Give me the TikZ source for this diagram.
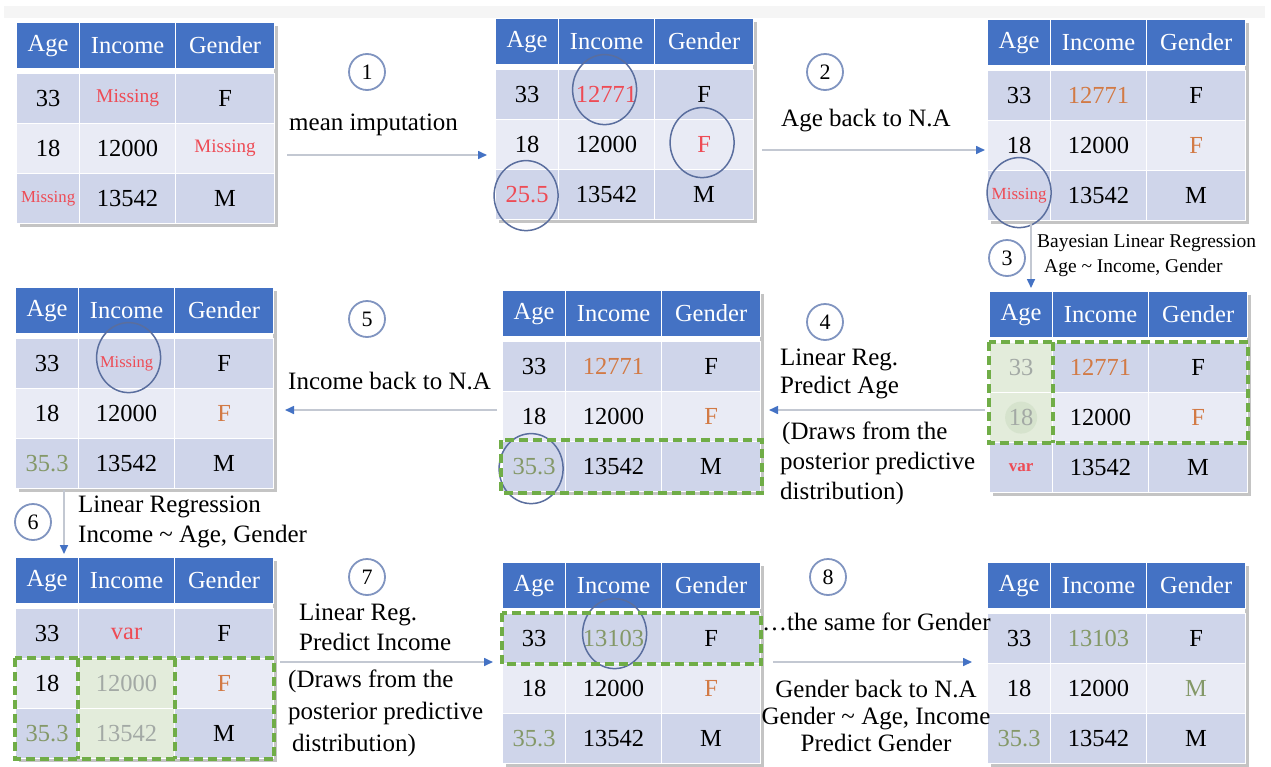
\documentclass[tikz,border=0pt]{standalone}
\usepackage{fontspec}
\setmainfont{LiberationSerif}[Extension=.ttf, UprightFont=*-Regular, BoldFont=*-Bold, ItalicFont=*-Italic, BoldItalicFont=*-BoldItalic]
\usetikzlibrary{arrows.meta,calc}

\definecolor{hdrblue}{HTML}{4472C4}
\definecolor{bandA}{HTML}{CFD5EA}
\definecolor{bandB}{HTML}{E9EBF5}
\definecolor{missred}{HTML}{EE4B55}
\definecolor{orangeval}{HTML}{D27A45}
\definecolor{oliveval}{HTML}{849868}
\definecolor{fadeval}{HTML}{A3A9A5}
\definecolor{hlgreen}{HTML}{E3ECDB}
\definecolor{hlgreenB}{HTML}{D6E3CD}
\definecolor{dashgreen}{HTML}{70AD47}
\definecolor{ringblue}{HTML}{5A6E9E}
\definecolor{stepring}{HTML}{8094C0}
\definecolor{linegray}{HTML}{C3C8D2}
\definecolor{shadowgray}{HTML}{C4C4C4}

% text colours used inside the cells
\newcommand\cRed[1]{\textcolor{missred}{#1}}
\newcommand\cOrg[1]{\textcolor{orangeval}{#1}}
\newcommand\cOlv[1]{\textcolor{oliveval}{#1}}
\newcommand\cGry[1]{\textcolor{fadeval}{#1}}
\newcommand\fsz[1]{\fontsize{#1}{#1}\selectfont}

\tikzset{
  cellbase/.style={rectangle, anchor=north west, inner sep=0pt, draw=white,
    line width=1.2pt, font=\fontsize{24.5}{28}\selectfont, text=black},
  hdrcell/.style={cellbase, fill=hdrblue, text=white, minimum height=46pt},
  rowcell/.style={cellbase, minimum height=50pt},
  stepno/.style={circle, draw=stepring, line width=1.8pt, fill=white,
    minimum size=36pt, inner sep=0pt, font=\fontsize{22}{24}\selectfont},
  lbl/.style={anchor=west, inner sep=0pt, align=left,
    font=\fontsize{25}{30}\selectfont},
  conn/.style={draw=linegray, line width=1.6pt,
    -{Triangle[length=9pt,width=8pt,color=hdrblue]}},
  ring/.style={draw=ringblue, line width=1.5pt},
  hlbox/.style={draw=dashgreen, line width=3.5pt, dash pattern=on 9pt off 5pt},
  % per-cell backgrounds for highlighted cells
  t3b-11/.style={fill=hlgreen},
  t3b-21/.style={fill=hlgreen, path picture={\fill[hlgreenB]
      (path picture bounding box.center) circle (16pt);}},
  t6-22/.style={fill=hlgreen},
  t6-32/.style={fill=hlgreen},
}

% one body row of a table: name, row index, y offset, fill, three cells
\newcommand\tblrow[7]{%
  \node[rowcell, fill=#4, minimum width=63pt, #1-#21/.try] (#1-#21) at (0,#3) {#5};
  \node[rowcell, fill=#4, minimum width=96pt, #1-#22/.try] (#1-#22) at (63,#3) {#6};
  \node[rowcell, fill=#4, minimum width=99pt, #1-#23/.try] (#1-#23) at (159,#3) {#7};}

% a whole table: name, x, y of its top-left corner, then three rows
\newcommand\mktable[6]{%
  \begin{scope}[shift={(#2,#3)}]
    \fill[shadowgray] (4,4) rectangle (262,205);
    \fill[white] (0,0) rectangle (258,201);
    \node[hdrcell, minimum width=63pt] (#1-h1) at (0,0) {Age};
    \node[hdrcell, minimum width=96pt] (#1-h2) at (63,0) {Income};
    \node[hdrcell, minimum width=99pt] (#1-h3) at (159,0) {Gender};
    \tblrow{#1}{1}{51}{bandA}#4
    \tblrow{#1}{2}{101}{bandB}#5
    \tblrow{#1}{3}{151}{bandA}#6
  \end{scope}}

\begin{document}
\begin{tikzpicture}[x=1pt, y=-1pt]
\useasboundingbox (0,0) rectangle (1271,766);
\fill[white] (0,0) rectangle (1271,766);
\fill[black!4] (4,6) rectangle (1265,18);

% ---- tables ----
\mktable{t1}{16}{22}
  {{33}{\cRed{\fsz{19.5}Missing}}{F}}
  {{18}{12000}{\cRed{\fsz{19}Missing}}}
  {{\cRed{\fsz{16.8}Missing}}{13542}{M}}
\mktable{t2}{495}{18}
  {{33}{\cRed{12771}}{F}}
  {{18}{12000}{\cRed{F}}}
  {{\cRed{25.5}}{13542}{M}}
\mktable{t3}{987}{19}
  {{33}{\cOrg{12771}}{F}}
  {{18}{12000}{\cOrg{F}}}
  {{\cRed{\fsz{17}Missing}}{13542}{M}}
\mktable{t5}{15}{287}
  {{33}{\cRed{\fsz{16.5}Missing}}{F}}
  {{18}{12000}{\cOrg{F}}}
  {{\cOlv{35.3}}{13542}{M}}
\mktable{t4}{502}{290}
  {{33}{\cOrg{12771}}{F}}
  {{18}{12000}{\cOrg{F}}}
  {{\cOlv{35.3}}{13542}{M}}
\mktable{t3b}{989}{291}
  {{\cGry{33}}{\cOrg{12771}}{F}}
  {{\cGry{18}}{12000}{\cOrg{F}}}
  {{\cRed{\fsz{17}\bfseries var}}{13542}{M}}
\mktable{t6}{15}{557}
  {{33}{\cRed{var}}{F}}
  {{18}{\cGry{12000}}{\cOrg{F}}}
  {{\cOlv{35.3}}{\cGry{13542}}{M}}
\mktable{t7}{502}{562}
  {{33}{\cOlv{13103}}{F}}
  {{18}{12000}{\cOrg{F}}}
  {{\cOlv{35.3}}{13542}{M}}
\mktable{t8}{987}{562}
  {{33}{\cOlv{13103}}{F}}
  {{18}{12000}{\cOlv{M}}}
  {{\cOlv{35.3}}{13542}{M}}

% ---- rings around changed values ----
\draw[ring] ([xshift=-2pt,yshift=5pt]t2-12.center) ellipse [x radius=32pt, y radius=35pt];
\draw[ring] ([xshift=-2pt,yshift=2pt]t2-23.center) ellipse [x radius=32pt, y radius=35pt];
\draw[ring] ([xshift=-1pt,yshift=-1pt]t2-31.center) ellipse [x radius=32pt, y radius=35pt];
\draw[ring] ([yshift=3pt]t3-31.center) ellipse [x radius=32pt, y radius=35pt];
\draw[ring] ([xshift=2pt,yshift=6pt]t5-12.center) ellipse [x radius=32pt, y radius=35pt];
\draw[ring] ([xshift=-3pt,yshift=-2pt]t4-31.center) ellipse [x radius=32pt, y radius=35pt];
\draw[ring] ([xshift=1pt,yshift=5pt]t7-12.center) ellipse [x radius=32pt, y radius=35pt];

% ---- dashed selections ----
\draw[hlbox] ([shift={(-1pt,1pt)}]t4-31.north west) rectangle ([shift={(1pt,-1pt)}]t4-33.south east);
\draw[hlbox] (t3b-11.north west) rectangle (t3b-23.south east);
\draw[hlbox] (t3b-11.north east) -- (t3b-21.south east);
\draw[hlbox] (t6-21.north west) rectangle (t6-33.south east);
\draw[hlbox] (t6-22.north west) -- (t6-32.south west);
\draw[hlbox] (t6-22.north east) -- (t6-32.south east);
\draw[hlbox] (t7-11.north west) rectangle (t7-13.south east);

% ---- step markers ----
\node[stepno] (s1) at (367,72) {1};
\node[stepno] (s2) at (825,72) {2};
\node[stepno] (s3) at (1007,258) {3};
\node[stepno] (s4) at (825,322) {4};
\node[stepno] (s5) at (367,319) {5};
\node[stepno] (s6) at (33,522) {6};
\node[stepno] (s7) at (367,577) {7};
\node[stepno] (s8) at (828,577) {8};

% ---- arrow end points ----
\coordinate (a1s) at (287,155);  \coordinate (a1e) at (487,155);
\coordinate (a2s) at (762,150);  \coordinate (a2e) at (985,150);
\coordinate (a3s) at (1031,224); \coordinate (a3e) at (1031,288);
\coordinate (a4s) at (985,410);  \coordinate (a4e) at (769,410);
\coordinate (a5s) at (497,410);  \coordinate (a5e) at (285,410);
\coordinate (a6s) at (64,490);   \coordinate (a6e) at (64,554);
\coordinate (a7s) at (280,662);  \coordinate (a7e) at (493,662);
\coordinate (a8s) at (773,662);  \coordinate (a8e) at (972,662);

\draw[conn] (a1s) -- (a1e);
\draw[conn] (a2s) -- (a2e);
\draw[conn] (a3s) -- (a3e);
\draw[conn] (a4s) -- (a4e);
\draw[conn] (a5s) -- (a5e);
\draw[conn] (a6s) -- (a6e);
\draw[conn] (a7s) -- (a7e);
\draw[conn] (a8s) -- (a8e);

% ---- step labels ----
\node[lbl] (l1) at (289,125) {mean imputation};
\node[lbl] (l2) at (781,121) {Age back to N.A};
\node[lbl, font=\fontsize{19.5}{25}\selectfont] (l3) at (1037,256)
  {Bayesian Linear Regression\\\hspace*{7pt}Age \textasciitilde{} Income, Gender};
\node[lbl, font=\fontsize{25}{28}\selectfont] (l4a) at (780,374) {Linear Reg.\\Predict Age};
\node[lbl] (l4b) at (780,463) {\hspace*{2pt}(Draws from the\\posterior predictive\\distribution)};
\node[lbl] (l5) at (288,381) {Income back to N.A};
\node[lbl] (l6) at (78,522) {Linear Regression\\Income \textasciitilde{} Age, Gender};
\node[lbl] (l7a) at (299,627) {Linear Reg.\\Predict Income};
\node[lbl, font=\fontsize{25}{32}\selectfont] (l7b) at (288,713)
  {(Draws from the\\posterior predictive\\\hspace*{4pt}distribution)};
\node[lbl] (l8a) at (762,622) {…the same for Gender};
\node[lbl, anchor=center, align=center, font=\fontsize{25}{27}\selectfont] (l8b) at (876,716)
  {Gender back to N.A\\Gender \textasciitilde{} Age, Income\\Predict Gender};
\end{tikzpicture}
\end{document}
